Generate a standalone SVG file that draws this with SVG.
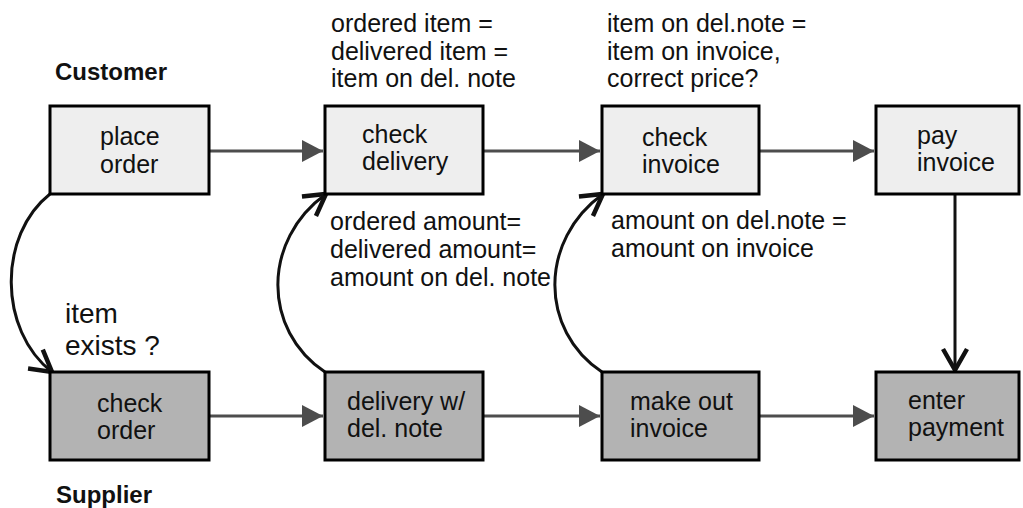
<svg xmlns="http://www.w3.org/2000/svg" width="1023" height="508" viewBox="0 0 1023 508">
<style>
.t{font-family:"Liberation Sans",Arial,sans-serif;font-size:25px;fill:#111}
.b{font-family:"Liberation Sans",Arial,sans-serif;font-size:24px;font-weight:bold;fill:#111}
.top{fill:#eeeeee;stroke:#000;stroke-width:3}
.bot{fill:#b3b3b3;stroke:#000;stroke-width:3}
.h{stroke:#4d4d4d;stroke-width:3;fill:none}
.c{stroke:#111;stroke-width:3;fill:none;marker-end:url(#open)}
</style>
<defs>
<marker id="open" markerUnits="userSpaceOnUse" markerWidth="30" markerHeight="30" refX="0" refY="0" viewBox="-16 -10 20 20" orient="auto">
<path d="M-14,-8 L0,0 L-14,8" fill="none" stroke="#111" stroke-width="3"/>
</marker>
<marker id="tri" markerUnits="userSpaceOnUse" markerWidth="24" markerHeight="24" refX="0" refY="0" viewBox="-22 -12 24 24" orient="auto">
<path d="M-21,-11 L0,0 L-21,11 Z" fill="#4d4d4d"/>
</marker>
</defs>
<rect width="1023" height="508" fill="#fff"/>
<text class="b" x="55" y="80">Customer</text>
<text class="b" x="56" y="503">Supplier</text>
<g id="connectors">
<path class="h" d="M209,151 H323" marker-end="url(#tri)"/>
<path class="h" d="M483,151 H600" marker-end="url(#tri)"/>
<path class="h" d="M759,151 H874" marker-end="url(#tri)"/>
<path class="h" d="M209,416 H323" marker-end="url(#tri)"/>
<path class="h" d="M483,416 H600" marker-end="url(#tri)"/>
<path class="h" d="M759,416 H874" marker-end="url(#tri)"/>
<path class="c" d="M50,194 C -2,235 -2,330 52,372"/>
<path class="c" d="M325,372 C 262,330 262,240 326,194"/>
<path class="c" d="M602,372 C 539,330 539,240 603,194"/>
<path class="c" d="M955,195 V370"/>
</g>
<g id="place-order"><rect class="top" x="50" y="106" width="159" height="88"/><text class="t" x="100" y="145">place</text><text class="t" x="100" y="173">order</text></g>
<g id="check-delivery"><rect class="top" x="325" y="106" width="158" height="88"/><text class="t" x="362" y="143">check</text><text class="t" x="362" y="170">delivery</text></g>
<g id="check-invoice"><rect class="top" x="602" y="106" width="157" height="88"/><text class="t" x="642" y="146">check</text><text class="t" x="642" y="173">invoice</text></g>
<g id="pay-invoice"><rect class="top" x="876" y="106" width="143" height="88"/><text class="t" x="917" y="144">pay</text><text class="t" x="917" y="171">invoice</text></g>
<g id="check-order"><rect class="bot" x="50" y="372" width="159" height="88"/><text class="t" x="97" y="412">check</text><text class="t" x="97" y="439">order</text></g>
<g id="delivery"><rect class="bot" x="325" y="372" width="158" height="88"/><text class="t" x="347" y="410">delivery w/</text><text class="t" x="347" y="437">del. note</text></g>
<g id="make-out-invoice"><rect class="bot" x="602" y="372" width="157" height="88"/><text class="t" x="630" y="410">make out</text><text class="t" x="630" y="437">invoice</text></g>
<g id="enter-payment"><rect class="bot" x="876" y="372" width="143" height="88"/><text class="t" x="908" y="409">enter</text><text class="t" x="908" y="436">payment</text></g>
<g id="annotations">
<text class="t" x="331" y="32">ordered item =</text>
<text class="t" x="331" y="60">delivered item =</text>
<text class="t" x="331" y="87">item on del. note</text>
<text class="t" x="607" y="32">item on del.note =</text>
<text class="t" x="607" y="60">item on invoice,</text>
<text class="t" x="607" y="87">correct price?</text>
<text class="t" x="330" y="230">ordered amount=</text>
<text class="t" x="330" y="258">delivered amount=</text>
<text class="t" x="330" y="286">amount on del. note</text>
<text class="t" x="611" y="229">amount on del.note =</text>
<text class="t" x="611" y="257">amount on invoice</text>
<text class="t" style="font-size:28px" x="65" y="323">item</text>
<text class="t" style="font-size:28px" x="65" y="355">exists ?</text>
</g>
</svg>
